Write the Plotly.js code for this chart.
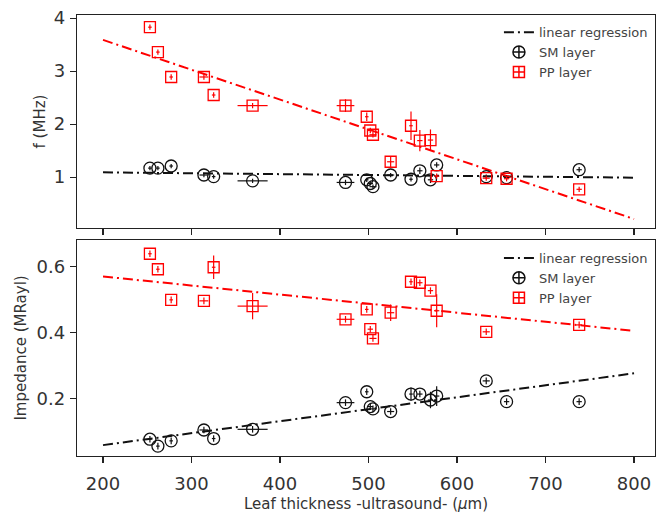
<!DOCTYPE html>
<html>
<head>
<meta charset="utf-8">
<script src="https://cdn.plot.ly/plotly-3.0.1.min.js"></script>
<style>html,body{margin:0;padding:0;background:#fff;}#chart{width:658px;height:513px;}</style>
</head>
<body>
<div id="chart"></div>
<script>
// Leaf thickness (µm) and its uncertainty
const thickness = [253, 262, 277, 314, 325, 369, 474, 498, 502, 505, 525, 548, 558, 570, 577, 633, 656, 738];
const thicknessErr = [2, 2, 2, 5, 2, 17, 10, 2, 3, 4, 4, 2, 3, 3, 3, 4, 3, 3];

// Top panel: frequency f (MHz)
const fSM = [1.17, 1.17, 1.21, 1.04, 1.01, 0.93, 0.90, 0.95, 0.88, 0.82, 1.04, 0.96, 1.12, 0.95, 1.23, 1.01, 0.99, 1.14];
const fSMErr = [0.04, 0.04, 0.04, 0.04, 0.04, 0.04, 0.05, 0.04, 0.04, 0.04, 0.04, 0.04, 0.06, 0.06, 0.05, 0.04, 0.04, 0.05];
const fPP = [3.83, 3.36, 2.89, 2.89, 2.55, 2.35, 2.35, 2.14, 1.88, 1.80, 1.29, 1.97, 1.69, 1.70, 1.02, 0.98, 0.97, 0.77];
const fPPErr = [0.05, 0.05, 0.05, 0.05, 0.05, 0.05, 0.12, 0.08, 0.05, 0.05, 0.1, 0.27, 0.2, 0.2, 0.05, 0.05, 0.05, 0.05];

// Bottom panel: impedance (MRayl)
const zSM = [0.076, 0.055, 0.071, 0.104, 0.078, 0.106, 0.187, 0.22, 0.175, 0.168, 0.16, 0.213, 0.213, 0.195, 0.207, 0.253, 0.19, 0.19];
const zSMErr = [0.01, 0.01, 0.01, 0.01, 0.01, 0.01, 0.01, 0.01, 0.01, 0.01, 0.01, 0.02, 0.01, 0.025, 0.03, 0.01, 0.01, 0.01];
const zPP = [0.639, 0.592, 0.499, 0.496, 0.598, 0.48, 0.44, 0.47, 0.41, 0.382, 0.46, 0.554, 0.551, 0.527, 0.466, 0.402, null, 0.423];
const zPPErr = [0.01, 0.01, 0.01, 0.01, 0.036, 0.04, 0.01, 0.01, 0.01, 0.01, 0.025, 0.01, 0.01, 0.01, 0.05, 0.01, 0.01, 0.01];

// Linear regression endpoints
const regX = [200, 800];
const regF_SM = [1.09, 0.99];
const regF_PP = [3.59, 0.21];
const regZ_SM = [0.058, 0.276];
const regZ_PP = [0.57, 0.405];

const xTicks = [200, 300, 400, 500, 600, 700, 800];
const fTicks = [1, 2, 3, 4];
const zTicks = [0.2, 0.4, 0.6];
const zTickText = ['0.2', '0.4', '0.6'];
const seriesNames = ['linear regression', 'SM layer', 'PP layer'];

const BLACK = '#111111';
const RED = '#ff0000';
const DASH = '10px,4px,2px,4px';
const FONT = 'DejaVu Sans, sans-serif';

function errX(c) { return {type: 'data', array: thicknessErr, visible: true, width: 0, thickness: 1.2, color: c}; }
function errY(arr, c) { return {type: 'data', array: arr, visible: true, width: 0, thickness: 1.2, color: c}; }

function panel(xa, ya, leg, regSM, regPP, sm, smErr, pp, ppErr) {
  return [
    {x: regX, y: regSM, xaxis: xa, yaxis: ya, mode: 'lines', name: seriesNames[0],
     line: {color: BLACK, width: 2, dash: DASH}, legend: leg},
    {x: regX, y: regPP, xaxis: xa, yaxis: ya, mode: 'lines', showlegend: false,
     line: {color: RED, width: 2, dash: DASH}},
    {x: thickness, y: sm, xaxis: xa, yaxis: ya, mode: 'markers', showlegend: false,
     marker: {symbol: 'circle-open', size: 12, color: BLACK, line: {width: 1.3, color: BLACK}},
     error_x: errX(BLACK), error_y: errY(smErr, BLACK)},
    {x: thickness, y: pp, xaxis: xa, yaxis: ya, mode: 'markers', showlegend: false,
     marker: {symbol: 'square-open', size: 11, color: RED, line: {width: 1.3, color: RED}},
     error_x: errX(RED), error_y: errY(ppErr, RED)},
    // legend entries (symbol with error-bar cross, as in the legend)
    {x: [null], y: [null], xaxis: xa, yaxis: ya, mode: 'markers', name: seriesNames[1], legend: leg,
     marker: {symbol: 'circle-cross-open', size: 12, color: BLACK, line: {width: 1.5, color: BLACK}}},
    {x: [null], y: [null], xaxis: xa, yaxis: ya, mode: 'markers', name: seriesNames[2], legend: leg,
     marker: {symbol: 'square-cross-open', size: 11, color: RED, line: {width: 1.5, color: RED}}}
  ];
}

const traces = [].concat(
  panel('x', 'y', 'legend', regF_SM, regF_PP, fSM, fSMErr, fPP, fPPErr),
  panel('x2', 'y2', 'legend2', regZ_SM, regZ_PP, zSM, zSMErr, zPP, zPPErr)
);

const axBase = {
  showgrid: false, zeroline: false, showline: true, mirror: true,
  linecolor: '#222', linewidth: 1.3, ticks: 'outside', ticklen: 6, tickwidth: 1.2,
  tickcolor: '#222', tickfont: {family: FONT, size: 18, color: '#333'}
};
const titleFont = {family: FONT, size: 15, color: '#333'};

const legBase = {
  font: {family: FONT, size: 13, color: '#444'}, bgcolor: 'rgba(255,255,255,0.8)',
  bordercolor: 'rgba(0,0,0,0)', borderwidth: 0, xanchor: 'left', yanchor: 'top',
  tracegroupgap: 0, itemwidth: 30
};

const layout = {
  width: 658, height: 513,
  margin: {l: 77, r: 3, t: 15, b: 57},
  paper_bgcolor: '#fff', plot_bgcolor: '#fff',
  showlegend: true,
  xaxis: Object.assign({}, axBase, {domain: [0, 1], anchor: 'y', range: [170.6, 823.7],
    tickvals: xTicks, showticklabels: false, matches: 'x2'}),
  yaxis: Object.assign({}, axBase, {domain: [0.517, 1], anchor: 'x', range: [0.04, 4.06],
    tickvals: fTicks, ticklabelstandoff: 1,
    title: {text: 'f (MHz)', font: titleFont, standoff: 4}}),
  xaxis2: Object.assign({}, axBase, {domain: [0, 1], anchor: 'y2', range: [170.6, 823.7],
    tickvals: xTicks, ticklabelstandoff: 5,
    title: {text: 'Leaf thickness -ultrasound- (<i>μ</i>m)', font: titleFont, standoff: 6}}),
  yaxis2: Object.assign({}, axBase, {domain: [0, 0.49], anchor: 'x2', range: [0.025, 0.681],
    tickvals: zTicks, ticktext: zTickText, ticklabelstandoff: 1,
    title: {text: 'Impedance (MRayl)', font: titleFont, standoff: 6}}),
  legend: Object.assign({}, legBase, {x: 0.73, y: 0.995}),
  legend2: Object.assign({}, legBase, {x: 0.73, y: 0.483})
};

Plotly.newPlot('chart', traces, layout, {displayModeBar: false, staticPlot: true});
</script>
</body>
</html>
